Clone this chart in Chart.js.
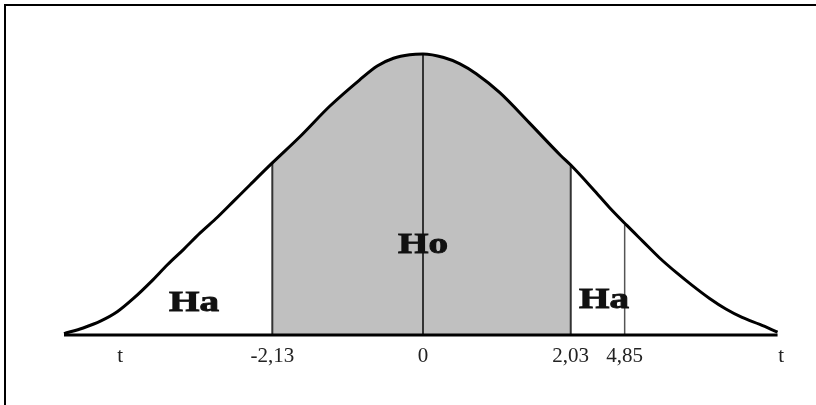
<!DOCTYPE html>
<html>
<head>
<meta charset="utf-8">
<script src="https://cdn.jsdelivr.net/npm/chart.js@4/dist/chart.umd.min.js"></script>
<style>
  html, body { margin: 0; padding: 0; background: #fff; overflow: hidden; }
  #wrap { position: relative; width: 816px; height: 405px; }
  #frame { position: absolute; left: 4px; top: 4px; width: 830px; height: 420px; border: 2px solid #000; }
  canvas { position: absolute; left: 0; top: 0; }
</style>
</head>
<body>
<div id="wrap">
  <div id="frame"></div>
  <canvas id="bellChart" width="816" height="405"></canvas>
</div>
<script>
// curve (t in sigma units, d = height)
const curveT = [-2.43, -2.30, -2.18, -2.07, -1.96, -1.84, -1.73, -1.62, -1.51, -1.39,
                -1.28, -1.17, -1.02, -0.83, -0.63, -0.43, -0.31, -0.20, -0.09, 0,
                0.14, 0.25, 0.36, 0.52, 0.72, 0.93, 1.00, 1.15, 1.26, 1.38,
                1.49, 1.60, 1.72, 1.82, 1.94, 2.05, 2.16, 2.28, 2.40];
const curveD = [0.002, 0.010, 0.020, 0.033, 0.052, 0.076, 0.100, 0.122, 0.145, 0.168,
                0.191, 0.214, 0.245, 0.283, 0.326, 0.363, 0.383, 0.394, 0.399, 0.400,
                0.395, 0.386, 0.372, 0.345, 0.302, 0.256, 0.242, 0.208, 0.182, 0.156,
                0.133, 0.110, 0.088, 0.071, 0.052, 0.037, 0.025, 0.015, 0.004];

// shaded acceptance region
const acceptFrom = -1.02;
const acceptTo = 1.00;

// vertical marker lines
const markerT = [-1.02, 0, 1.00, 1.365];
const markerTop = [0.245, 0.400, 0.242, 0.157];

// x axis ticks
const tickT = [-2.05, -1.02, 0, 1.00, 1.365, 2.425];
const tickLabels = ['t', '-2,13', '0', '2,03', '4,85', 't'];

// region labels
const regionLabels = ['Ha', 'Ho', 'Ha'];
const regionT = [-1.55, 0, 1.225];
const regionD = [0.034, 0.117, 0.038];

const curvePoints = curveT.map((t, i) => ({ x: t, y: curveD[i] }));
const fillPoints = curvePoints.filter(p => p.x >= acceptFrom && p.x <= acceptTo);

const datasets = [];
datasets.push({
    data: curvePoints,
    borderColor: '#000',
    borderWidth: 3,
    pointRadius: 0,
    cubicInterpolationMode: 'monotone',
    fill: false,
    clip: false
});
datasets.push({
    data: [{ x: curveT[0], y: 0 }, { x: curveT[curveT.length - 1], y: 0 }],
    borderColor: '#000',
    borderWidth: 3,
    pointRadius: 0,
    fill: false,
    clip: false
});
markerT.forEach((t, i) => {
    datasets.push({
        data: [{ x: t, y: 0 }, { x: t, y: markerTop[i] }],
        borderColor: i === 3 ? '#555' : '#333',
        borderWidth: i === 3 ? 1.5 : 2,
        pointRadius: 0,
        fill: false,
        clip: false
    });
});
datasets.push({
    data: fillPoints,
    borderWidth: 0,
    borderColor: 'rgba(0,0,0,0)',
    backgroundColor: '#c0c0c0',
    pointRadius: 0,
    cubicInterpolationMode: 'monotone',
    fill: 'origin',
    clip: false
});

const regionLabelPlugin = {
    id: 'regionLabels',
    afterDatasetsDraw(chart) {
        const ctx = chart.ctx;
        const xs = chart.scales.x, ys = chart.scales.y;
        ctx.save();
        ctx.fillStyle = '#111';
        ctx.strokeStyle = '#111';
        ctx.lineWidth = 0.9;
        ctx.font = 'bold 29px "Liberation Serif", "Times New Roman", serif';
        ctx.textAlign = 'center';
        ctx.textBaseline = 'alphabetic';
        regionLabels.forEach((txt, i) => {
            const px = xs.getPixelForValue(regionT[i]);
            const py = ys.getPixelForValue(regionD[i]);
            ctx.save();
            ctx.translate(px, py);
            ctx.scale(1.35, 1);
            ctx.fillText(txt, 0, 0);
            ctx.strokeText(txt, 0, 0);
            ctx.restore();
        });
        ctx.restore();
    }
};

new Chart(document.getElementById('bellChart').getContext('2d'), {
    type: 'line',
    data: { datasets: datasets },
    options: {
        responsive: false,
        animation: false,
        parsing: false,
        layout: { padding: { left: 64, right: 34, top: 40, bottom: 0 } },
        plugins: { legend: { display: false }, tooltip: { enabled: false } },
        scales: {
            x: {
                type: 'linear',
                min: -2.43,
                max: 2.43,
                grid: { display: false, drawTicks: false },
                border: { display: false },
                afterBuildTicks: scale => {
                    scale.ticks = tickT.map(v => ({ value: v }));
                },
                afterFit: scale => { scale.height = 70; },
                ticks: {
                    autoSkip: false,
                    maxRotation: 0,
                    padding: 9,
                    color: '#222',
                    font: { family: '"Liberation Serif", "Times New Roman", serif', size: 21 },
                    callback: (value, index) => tickLabels[index]
                }
            },
            y: {
                type: 'linear',
                display: false,
                min: 0,
                max: 0.42
            }
        }
    },
    plugins: [regionLabelPlugin]
});
</script>
</body>
</html>
